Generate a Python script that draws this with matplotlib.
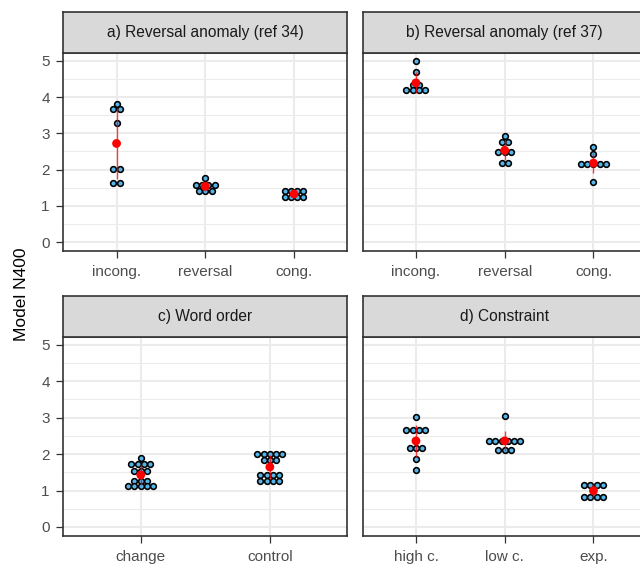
import matplotlib
matplotlib.use('Agg')
import matplotlib.pyplot as plt
from matplotlib.ticker import MultipleLocator
import numpy as np

plt.rcParams['font.family'] = ['Liberation Sans', 'DejaVu Sans']

# ---- data (repeats = dots in the same bin) ----
panel_titles = ['a) Reversal anomaly (ref 34)', 'b) Reversal anomaly (ref 37)',
                'c) Word order', 'd) Constraint']

a_categories = ['incong.', 'reversal', 'cong.']
a_incong = [3.82, 3.68, 3.68, 3.29, 2.02, 2.02, 1.63, 1.63]
a_reversal = [1.77, 1.59, 1.59, 1.59, 1.59, 1.40, 1.40, 1.40]
a_cong = [1.40, 1.40, 1.40, 1.40, 1.26, 1.26, 1.26, 1.26]

b_categories = ['incong.', 'reversal', 'cong.']
b_incong = [4.98, 4.68, 4.33, 4.33, 4.20, 4.20, 4.20, 4.20]
b_reversal = [2.92, 2.77, 2.77, 2.48, 2.48, 2.48, 2.18, 2.18]
b_cong = [2.63, 2.42, 2.15, 2.15, 2.15, 2.15, 2.15, 1.65]

c_categories = ['change', 'control']
c_change = [1.90, 1.74, 1.74, 1.74, 1.74, 1.53, 1.53, 1.53,
            1.26, 1.26, 1.26, 1.12, 1.12, 1.12, 1.12, 1.12]
c_control = [2.01, 2.01, 2.01, 2.01, 2.01, 1.85, 1.85, 1.85,
             1.42, 1.42, 1.42, 1.42, 1.26, 1.26, 1.26, 1.26]

d_categories = ['high c.', 'low c.', 'exp.']
d_high = [3.01, 2.67, 2.67, 2.67, 2.67, 2.16, 2.16, 2.16, 1.86, 1.57]
d_low = [3.05, 2.37, 2.37, 2.37, 2.37, 2.37, 2.37, 2.12, 2.12, 2.12]
d_exp = [1.16, 1.16, 1.16, 1.16, 0.83, 0.83, 0.83, 0.83]

y_ticks = [0, 1, 2, 3, 4, 5]

panels = [
    (panel_titles[0], a_categories, [a_incong, a_reversal, a_cong]),
    (panel_titles[1], b_categories, [b_incong, b_reversal, b_cong]),
    (panel_titles[2], c_categories, [c_change, c_control]),
    (panel_titles[3], d_categories, [d_high, d_low, d_exp]),
]

# ---- layout ----
W, H = 640, 570
fig = plt.figure(figsize=(W / 100, H / 100), dpi=100)
fig.patch.set_facecolor('white')


def px_box(x0, y0, x1, y1):
    return [x0 / W, 1 - y1 / H, (x1 - x0) / W, (y1 - y0) / H]


boxes = [(63.3, 52.7, 347.3, 251.0), (362.7, 52.7, 646.7, 251.0),
         (63.3, 336.7, 347.3, 535.7), (362.7, 336.7, 646.7, 535.7)]
strip_h = 41.0
border_col = '#333333'
dot_fill = '#56B4E9'
dot_px = 6.3

for i, ((title, cats, groups), b) in enumerate(zip(panels, boxes)):
    ax = fig.add_axes(px_box(*b))
    n = len(cats)
    ax.set_xlim(0.4, n + 0.6)
    ax.set_ylim(-0.24, 5.22)
    ax.set_facecolor('white')
    ax.set_yticks(y_ticks)
    ax.yaxis.set_minor_locator(MultipleLocator(0.5))
    ax.set_xticks(range(1, n + 1))
    ax.set_xticklabels(cats)
    ax.grid(which='major', color='#EBEBEB', lw=1.5)
    ax.grid(which='minor', axis='y', color='#EBEBEB', lw=0.75)
    ax.set_axisbelow(True)
    ax.tick_params(which='minor', length=0)
    ax.tick_params(which='major', length=4.8, width=0.9, color=border_col,
                   labelcolor='#4D4D4D', labelsize=11)
    ax.tick_params(axis='x', pad=5.5)
    ax.tick_params(axis='y', pad=5)
    if i % 2 == 1:
        ax.tick_params(axis='y', left=False, labelleft=False)
    for sp in ax.spines.values():
        sp.set_color(border_col)
        sp.set_linewidth(1.2)
        sp.set_zorder(6)

    px_per_unit = (b[2] - b[0]) / (n + 0.2)
    d = dot_px / px_per_unit
    for j, vals in enumerate(groups):
        xs, ys = [], []
        uniq = []
        for v in vals:
            if v not in uniq:
                uniq.append(v)
        for u in uniq:
            k = vals.count(u)
            for m in range(k):
                xs.append(j + 1 + (m - (k - 1) / 2) * d)
                ys.append(u)
        ax.scatter(xs, ys, s=17, facecolor=dot_fill, edgecolor='black',
                   linewidth=1.15, zorder=3, clip_on=False)
        mean = np.mean(vals)
        sd = np.std(vals, ddof=1)
        ax.plot([j + 1, j + 1], [mean - sd, mean + sd], color='red', lw=1.0,
                alpha=0.75, zorder=4, solid_capstyle='butt')
        ax.scatter([j + 1], [mean], s=40, color='red', edgecolor='none', zorder=5)

    # strip
    sax = fig.add_axes(px_box(b[0], b[1] - strip_h, b[2], b[1]))
    sax.set_facecolor('#D9D9D9')
    sax.set_xticks([])
    sax.set_yticks([])
    for sp in sax.spines.values():
        sp.set_color(border_col)
        sp.set_linewidth(1.2)
    sax.text(0.5, 0.5, title, transform=sax.transAxes, ha='center', va='center',
             fontsize=11.2, color='#1A1A1A')

fig.text(22 / W, 1 - 294 / H, 'Model N400', rotation=90, ha='center', va='center',
         fontsize=12.5, color='black')

fig.savefig('out.png', dpi=100, facecolor='white')
